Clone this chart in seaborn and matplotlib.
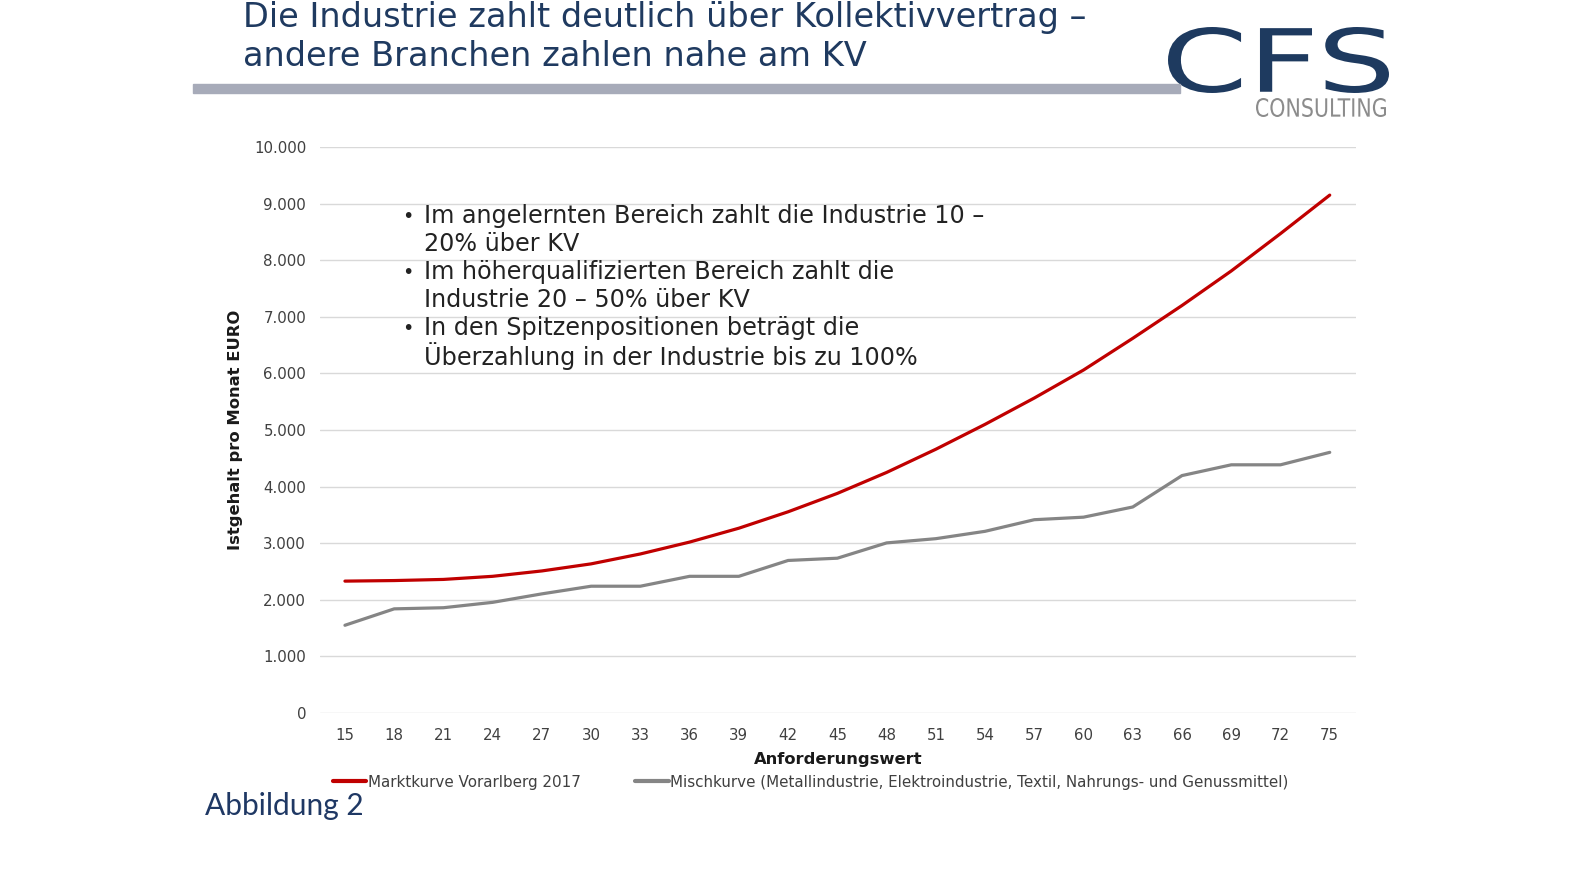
import matplotlib
matplotlib.use("Agg")
import matplotlib.pyplot as plt
import seaborn as sns
import pandas as pd
from matplotlib.patches import Rectangle, PathPatch
from matplotlib.textpath import TextPath
from matplotlib.font_manager import FontProperties
from matplotlib.lines import Line2D

# ---- data ----
anforderung = [15, 18, 21, 24, 27, 30, 33, 36, 39, 42, 45, 48, 51, 54, 57, 60, 63, 66, 69, 72, 75]
marktkurve = [2330, 2340, 2360, 2415, 2510, 2635, 2810, 3020, 3265, 3555, 3880, 4250, 4660, 5100, 5565, 6060, 6620, 7200, 7810, 8470, 9150]
mischkurve = [1550, 1840, 1860, 1955, 2105, 2240, 2240, 2415, 2415, 2695, 2735, 3005, 3080, 3210, 3415, 3460, 3640, 4195, 4385, 4385, 4605]
series_names = ["Marktkurve Vorarlberg 2017",
                "Mischkurve (Metallindustrie, Elektroindustrie, Textil, Nahrungs- und Genussmittel)"]
y_ticks = [0, 1000, 2000, 3000, 4000, 5000, 6000, 7000, 8000, 9000, 10000]
y_tick_labels = ["0", "1.000", "2.000", "3.000", "4.000", "5.000", "6.000", "7.000", "8.000", "9.000", "10.000"]
title_lines = ["Die Industrie zahlt deutlich über Kollektivvertrag –",
               "andere Branchen zahlen nahe am KV"]
bullets = [["Im angelernten Bereich zahlt die Industrie 10 –", "20% über KV"],
           ["Im höherqualifizierten Bereich zahlt die", "Industrie 20 – 50% über KV"],
           ["In den Spitzenpositionen beträgt die", "Überzahlung in der Industrie bis zu 100%"]]

df = pd.DataFrame({
    "x": anforderung * 2,
    "y": marktkurve + mischkurve,
    "serie": [series_names[0]] * len(anforderung) + [series_names[1]] * len(anforderung),
})

sns.set_theme(style="white")
plt.rcParams["font.family"] = ["DejaVu Sans"]

W, H = 1571, 869
fig = plt.figure(figsize=(W / 100, H / 100), dpi=100)


def fx(px):
    return px / W


def fy(py):
    return 1 - py / H


ax = fig.add_axes([fx(320), fy(713), fx(1356) - fx(320), fy(147) - fy(713)])
palette = {series_names[0]: "#c00000", series_names[1]: "#858585"}
sns.lineplot(data=df, x="x", y="y", hue="serie", palette=palette, linewidth=2.3,
             ax=ax, legend=False)

ax.set_xlim(13.48, 76.6)
ax.set_ylim(0, 10000)
ax.set_xticks(anforderung)
ax.set_xticklabels([str(v) for v in anforderung], fontsize=10.8, color="#404040")
ax.set_yticks(y_ticks)
ax.set_yticklabels(y_tick_labels, fontsize=10.8, color="#404040")
ax.tick_params(axis="both", length=0)
ax.tick_params(axis="y", pad=10)
ax.tick_params(axis="x", pad=11)
ax.grid(axis="y", color="#d9d9d9", linewidth=1)
ax.grid(axis="x", visible=False)
for s in ax.spines.values():
    s.set_visible(False)
ax.set_xlabel("Anforderungswert", fontsize=11.8, fontweight="bold", color="#1a1a1a", labelpad=6)
ax.set_ylabel("Istgehalt pro Monat EURO", fontsize=11.8, fontweight="bold", color="#1a1a1a", labelpad=8)

# legend
handles = [Line2D([], [], color=palette[n], linewidth=3) for n in series_names]
fig.legend(handles, series_names, loc="center left", bbox_to_anchor=(fx(333), fy(782)),
           ncol=2, frameon=False, fontsize=10.9, handlelength=2.2, handletextpad=0.1,
           columnspacing=3.6, labelcolor="#404040", borderaxespad=0, borderpad=0)

# annotation bullets
line_y = 216
for pair in bullets:
    fig.text(fx(402), fy(line_y), "•", fontsize=14, color="#222222", va="center", ha="left")
    for ln in pair:
        fig.text(fx(424), fy(line_y), ln, fontsize=17.2, color="#222222", va="center", ha="left")
        line_y += 28

# title
fig.text(fx(243), fy(18), title_lines[0], fontsize=24.2, color="#1f3a60", va="center", ha="left")
fig.text(fx(243), fy(57), title_lines[1], fontsize=24.2, color="#1f3a60", va="center", ha="left")
fig.patches.append(Rectangle((fx(193), fy(93)), fx(1180) - fx(193), fy(84) - fy(93),
                             transform=fig.transFigure, color="#a7abb9", zorder=0))


# logo: text shapes fitted into their boxes
def fitted_text(txt, x0, x1, ytop, ybot, color, weight="normal"):
    path = TextPath((0, 0), txt, size=100, prop=FontProperties(family="DejaVu Sans", weight=weight))
    ext = path.get_extents()
    lax = fig.add_axes([fx(x0), fy(ybot), fx(x1) - fx(x0), fy(ytop) - fy(ybot)])
    lax.add_patch(PathPatch(path, facecolor=color, edgecolor="none"))
    lax.set_xlim(ext.x0, ext.x1)
    lax.set_ylim(ext.y0, ext.y1)
    lax.axis("off")


fitted_text("CFS", 1168, 1389, 27, 93, "#1e3a5f")
fitted_text("CONSULTING", 1256, 1386, 98, 117, "#8c8c8c")

fig.text(fx(205), fy(806), "Abbildung 2", fontsize=21.5, color="#1f3864", va="center", ha="left",
         family=["Lato", "DejaVu Sans"])

fig.savefig("out.png", dpi=100)
